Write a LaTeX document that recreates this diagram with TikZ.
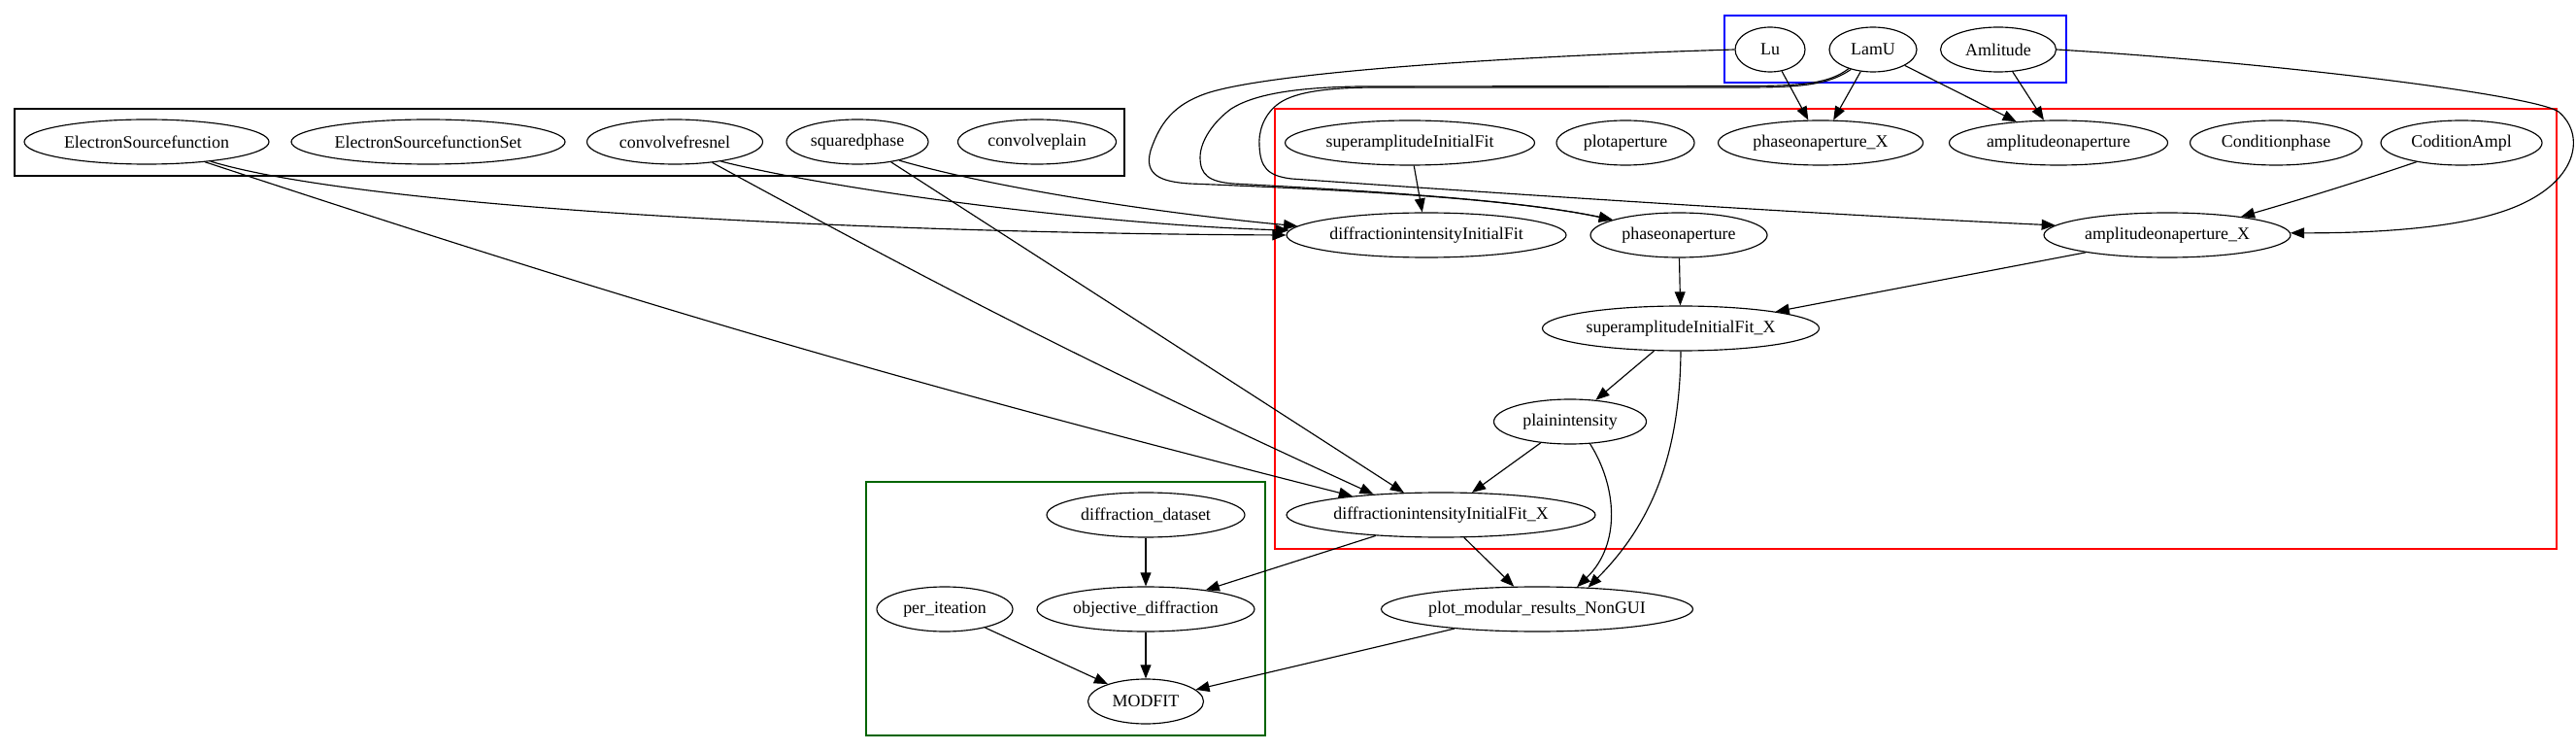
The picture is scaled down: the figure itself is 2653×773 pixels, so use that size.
\documentclass[tikz,border=0pt]{standalone}
\usepackage{fontspec}
\setmainfont{Liberation Serif}
\usetikzlibrary{arrows.meta,shapes.geometric}
\definecolor{dgreen}{RGB}{0,100,0}
\begin{document}
\begin{tikzpicture}[x=0.7825pt,y=-0.7825pt,
  nd/.style={ellipse,draw,line width=0.9pt,inner sep=0pt,minimum height=36pt,minimum width={#1*0.7825pt},font=\fontsize{14}{16}\selectfont},
  arr/.style={draw,line width=0.9pt,-{Triangle[length=11pt,width=8.5pt]}},
  clu/.style={draw,line width=1pt}]
\useasboundingbox (0,0) rectangle (2653,773);
% clusters
\draw[clu,black] (15,112) rectangle (1158,181);
\draw[clu,blue] (1776,16) rectangle (2128,85);
\draw[clu,red] (1313,112) rectangle (2633,565);
\draw[clu,dgreen] (892,496) rectangle (1303,757);
% nodes
\node[nd=252] (ESF) at (151,146) {ElectronSourcefunction};
\node[nd=282] (ESFSet) at (441,146) {ElectronSourcefunctionSet};
\node[nd=181] (cf) at (695,146) {convolvefresnel};
\node[nd=146] (sq) at (883,146) {squaredphase};
\node[nd=163] (cp) at (1068,146) {convolveplain};
\node[nd=72] (Lu) at (1823,51) {Lu};
\node[nd=90] (LamU) at (1929,51) {LamU};
\node[nd=119] (Aml) at (2058,51) {Amlitude};
\node[nd=257] (sAIF) at (1452,147) {superamplitudeInitialFit};
\node[nd=142] (plotap) at (1674,147) {plotaperture};
\node[nd=211] (paX) at (1875,147) {phaseonaperture\_X};
\node[nd=225] (aa) at (2120,147) {amplitudeonaperture};
\node[nd=177] (Cph) at (2344,147) {Conditionphase};
\node[nd=166] (CA) at (2535,147) {CoditionAmpl};
\node[nd=288] (dIF) at (1469,242) {diffractionintensityInitialFit};
\node[nd=182] (pa) at (1729,242) {phaseonaperture};
\node[nd=254] (aaX) at (2232,242) {amplitudeonaperture\_X};
\node[nd=285] (sAIFX) at (1731,338) {superamplitudeInitialFit\_X};
\node[nd=157] (pi) at (1617,434) {plainintensity};
\node[nd=318] (dIFX) at (1484,530) {diffractionintensityInitialFit\_X};
\node[nd=204] (dd) at (1180,530) {diffraction\_dataset};
\node[nd=140] (per) at (973,627) {per\_iteation};
\node[nd=224] (obj) at (1180,627) {objective\_diffraction};
\node[nd=321] (pmr) at (1583,627) {plot\_modular\_results\_NonGUI};
\node[nd=119] (MODFIT) at (1180,722) {MODFIT};
% edges from the black cluster
\draw[arr] (ESF.-17) .. controls (380,215) and (900,240) .. (dIF.180);
\draw[arr] (cf.-23) .. controls (880,200) and (1150,232) .. (dIF.178);
\draw[arr] (sq.-24) .. controls (1030,195) and (1200,220) .. (dIF.176);
\draw[arr] (ESF.-19) to[bend right=2] (dIFX.168);
\draw[arr] (cf.-29) to[bend right=2] (dIFX.163);
\draw[arr] (sq.-31) -- (dIFX.149);
% red cluster internal
\draw[arr] (sAIF) -- (dIF);
\draw[arr] (CA.203) .. controls (2420,190) and (2360,208) .. (aaX.14);
\draw[arr] (aaX.192) -- (sAIFX.10);
\draw[arr] (pa) -- (sAIFX);
\draw[arr] (sAIFX) -- (pi);
\draw[arr] (sAIFX.-90) .. controls (1730,470) and (1700,540) .. (pmr.23);
\draw[arr] (pi.-48) .. controls (1665,500) and (1670,560) .. (pmr.29);
\draw[arr] (pi) -- (dIFX);
\draw[arr] (dIFX) -- (obj);
\draw[arr] (dIFX) -- (pmr);
% blue cluster
\draw[arr] (Lu) -- (paX);
\draw[arr] (LamU) -- (paX);
\draw[arr] (LamU) -- (aa);
\draw[arr] (Aml) -- (aa);
\draw[arr] (Lu.west) .. controls (1550,58) and (1300,75) .. (1240,97)
  .. controls (1210,108) and (1195,125) .. (1185,155)
  .. controls (1178,180) and (1195,187) .. (1225,189)
  .. controls (1400,196) and (1560,205) .. (pa.167);
\draw[arr] (LamU.218) .. controls (1885,85) and (1860,88.5) .. (1800,88.5) -- (1400,89)
  .. controls (1330,90) and (1290,98) .. (1268,112)
  .. controls (1250,125) and (1236,145) .. (1236,162)
  .. controls (1236,180) and (1245,187) .. (1270,189)
  .. controls (1400,196) and (1560,205) .. (pa.167);
\draw[arr] (LamU.222) .. controls (1885,86) and (1860,90) .. (1800,90) -- (1420,90)
  .. controls (1360,90) and (1330,96) .. (1315,108)
  .. controls (1300,120) and (1296,138) .. (1297,150)
  .. controls (1298,172) and (1305,181) .. (1330,184)
  .. controls (1600,203) and (1900,222) .. (aaX.175);
\draw[arr] (Aml.east) .. controls (2350,65) and (2610,98) .. (2635,115)
  .. controls (2665,140) and (2655,195) .. (2570,220)
  .. controls (2510,238) and (2420,240) .. (aaX.1);
% green cluster
\draw[arr] (dd) -- (obj);
\draw[arr] (obj) -- (MODFIT);
\draw[arr] (per) -- (MODFIT);
\draw[arr] (pmr) -- (MODFIT);
\end{tikzpicture}
\end{document}
